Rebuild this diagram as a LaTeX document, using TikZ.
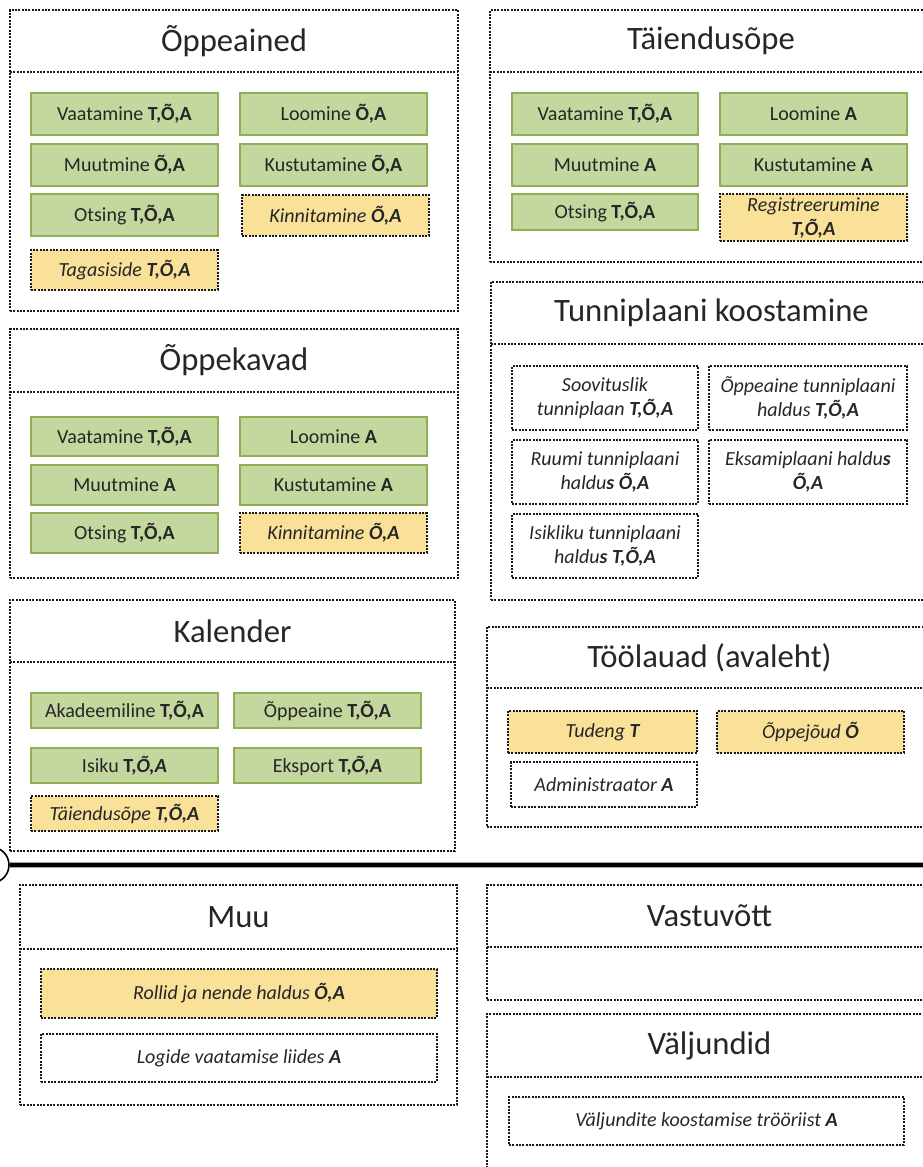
\documentclass[tikz,border=0pt]{standalone}
\usepackage{fontspec}
\setmainfont{Carlito}
\usetikzlibrary{shapes.geometric}
\definecolor{gfill}{HTML}{C4D79F}
\definecolor{gdraw}{HTML}{8FAF55}
\definecolor{yfill}{HTML}{F9E199}
\definecolor{txt}{HTML}{262626}
\newcommand{\bx}[1]{\textbf{#1}}
\newcommand{\ix}[1]{\textit{#1}}
\newcommand{\ibox}[7]{%
  \pgfmathsetmacro\cw{(#5-#3)*0.75}\pgfmathsetmacro\ch{(#6-#4)*0.75}%
  \node[#2, minimum width=\cw pt, minimum height=\ch pt] (#1) at ({(#3+#5)/2},{(#4+#6)/2}) {#7};}
\newcommand{\panel}[7]{% name, x1,y1,x2,yh,y2,title
  \ibox{#1}{panelbody}{#2}{#3}{#4}{#6}{}
  \ibox{#1h}{panelhead}{#2}{#3}{#4}{#5}{#7}
  \draw[dotline] (#1h.south west) -- (#1h.south east);}
\tikzset{
  dotline/.style={draw=black!90, line width=1.3pt, dash pattern=on 1.5pt off 1pt},
  panelhead/.style={inner sep=0pt, outer sep=0pt, text=txt, font=\fontsize{24.5}{29}\selectfont},
  panelbody/.style={dotline, inner sep=0pt, outer sep=0pt},
  itembase/.style={inner sep=0pt, outer sep=0pt, text=txt, font=\fontsize{15}{18}\selectfont, align=center},
  gitem/.style={itembase, fill=gfill, draw=gdraw, line width=1.3pt},
  yitem/.style={itembase, fill=yfill, dotline, font=\fontsize{15}{18}\selectfont\itshape},
  witem/.style={itembase, fill=white, dotline, font=\fontsize{15}{18}\selectfont\itshape},
}
\begin{document}
\begin{tikzpicture}[x=0.75pt,y=-0.75pt]
\useasboundingbox[fill=white] (0,0) rectangle (923,1167);
% --- Õppeained
\panel{oa}{10}{10}{458}{72}{311}{Õppeained}
\ibox{oa1}{gitem}{31}{93}{218}{135}{Vaatamine \bx{T,Õ,A}}
\ibox{oa2}{gitem}{240}{93}{427}{135}{Loomine \bx{Õ,A}}
\ibox{oa3}{gitem}{31}{144}{218}{186}{Muutmine \bx{Õ,A}}
\ibox{oa4}{gitem}{240}{144}{427}{186}{Kustutamine \bx{Õ,A}}
\ibox{oa5}{gitem}{31}{194}{218}{236}{Otsing \bx{T,Õ,A}}
\ibox{oa6}{yitem}{242}{195}{429}{236}{Kinnitamine \bx{Õ,A}}
\ibox{oa7}{yitem}{31}{250}{218}{290}{Tagasiside \bx{T,Õ,A}}
% --- Täiendusõpe
\panel{ta}{490}{10}{932}{72}{262}{Täiendusõpe}
\ibox{ta1}{gitem}{512}{93}{698}{135}{Vaatamine \bx{T,Õ,A}}
\ibox{ta2}{gitem}{720}{93}{907}{135}{Loomine \bx{A}}
\ibox{ta3}{gitem}{512}{144}{698}{186}{Muutmine \bx{A}}
\ibox{ta4}{gitem}{720}{144}{907}{186}{Kustutamine \bx{A}}
\ibox{ta5}{gitem}{512}{194}{698}{230}{Otsing \bx{T,Õ,A}}
\ibox{ta6}{yitem}{720}{194}{907}{241}{Registreerumine\\\bx{T,Õ,A}}
% --- Tunniplaani koostamine
\panel{tp}{491}{282}{932}{344}{600}{Tunniplaani koostamine}
\ibox{tp1}{witem}{512}{366}{698}{430}{Soovituslik\\tunniplaan \bx{T,Õ,A}}
\ibox{tp2}{witem}{709}{366}{907}{430}{Õppeaine tunniplaani\\haldus \bx{T,Õ,A}}
\ibox{tp3}{witem}{512}{440}{698}{504}{Ruumi tunniplaani\\haldu\bx{s Õ,A}}
\ibox{tp4}{witem}{709}{440}{907}{504}{Eksamiplaani haldu\bx{s}\\\bx{Õ,A}}
\ibox{tp5}{witem}{512}{514}{698}{578}{Isikliku tunniplaani\\haldu\bx{s T,Õ,A}}
% --- Õppekavad
\panel{ok}{10}{329}{458}{392}{578}{Õppekavad}
\ibox{ok1}{gitem}{31}{417}{218}{456}{Vaatamine \bx{T,Õ,A}}
\ibox{ok2}{gitem}{240}{417}{427}{456}{Loomine \bx{A}}
\ibox{ok3}{gitem}{31}{465}{218}{505}{Muutmine \bx{A}}
\ibox{ok4}{gitem}{240}{465}{427}{505}{Kustutamine \bx{A}}
\ibox{ok5}{gitem}{31}{513}{218}{553}{Otsing \bx{T,Õ,A}}
\ibox{ok6}{yitem}{240}{513}{427}{553}{Kinnitamine \bx{Õ,A}}
% --- Kalender
\panel{ka}{10}{600}{455}{662}{851}{Kalender}
\ibox{ka1}{gitem}{31}{693}{218}{728}{Akadeemiline \bx{T,Õ,A}}
\ibox{ka2}{gitem}{234}{693}{421}{728}{Õppeaine \bx{T,Õ,A}}
\ibox{ka3}{gitem}{31}{748}{218}{783}{Isiku \bx{T,\ix{Õ,A}}}
\ibox{ka4}{gitem}{234}{748}{421}{783}{Eksport \bx{T,\ix{Õ,A}}}
\ibox{ka5}{yitem}{31}{796}{218}{831}{Täiendusõpe \bx{T,Õ,A}}
% --- Töölauad
\panel{tl}{487}{627}{932}{688}{827}{Töölauad (avaleht)}
\ibox{tl1}{yitem}{508}{711}{697}{753}{Tudeng \bx{T}}
\ibox{tl2}{yitem}{717}{711}{904}{753}{Õppejõud \bx{Õ}}
\ibox{tl3}{witem}{511}{762}{697}{807}{Administraator \bx{A}}
% --- separator
\node[circle, draw=black, line width=1.2pt, minimum size=27pt, inner sep=0pt] (circ) at (-9,865) {};
\coordinate (lend) at (935,865);
\draw[black!35, line width=4.6pt] (circ.east) -- (lend);
\draw[black, line width=2.8pt] (circ.east) -- (lend);
% --- Muu
\panel{mu}{20}{885}{457}{949}{1105}{Muu}
\ibox{mu1}{yitem}{41}{969}{437}{1018}{Rollid ja nende haldus \bx{Õ,A}}
\ibox{mu2}{witem}{41}{1034}{437}{1082}{Logide vaatamise liides \bx{A}}
% --- Vastuvõtt
\panel{vv}{487}{885}{932}{947}{1000}{Vastuvõtt}
% --- Väljundid
\panel{vj}{487}{1014}{932}{1077}{1185}{Väljundid}
\ibox{vj1}{witem}{509}{1097}{904}{1145}{Väljundite koostamise trööriist \bx{A}}
\end{tikzpicture}
\end{document}
